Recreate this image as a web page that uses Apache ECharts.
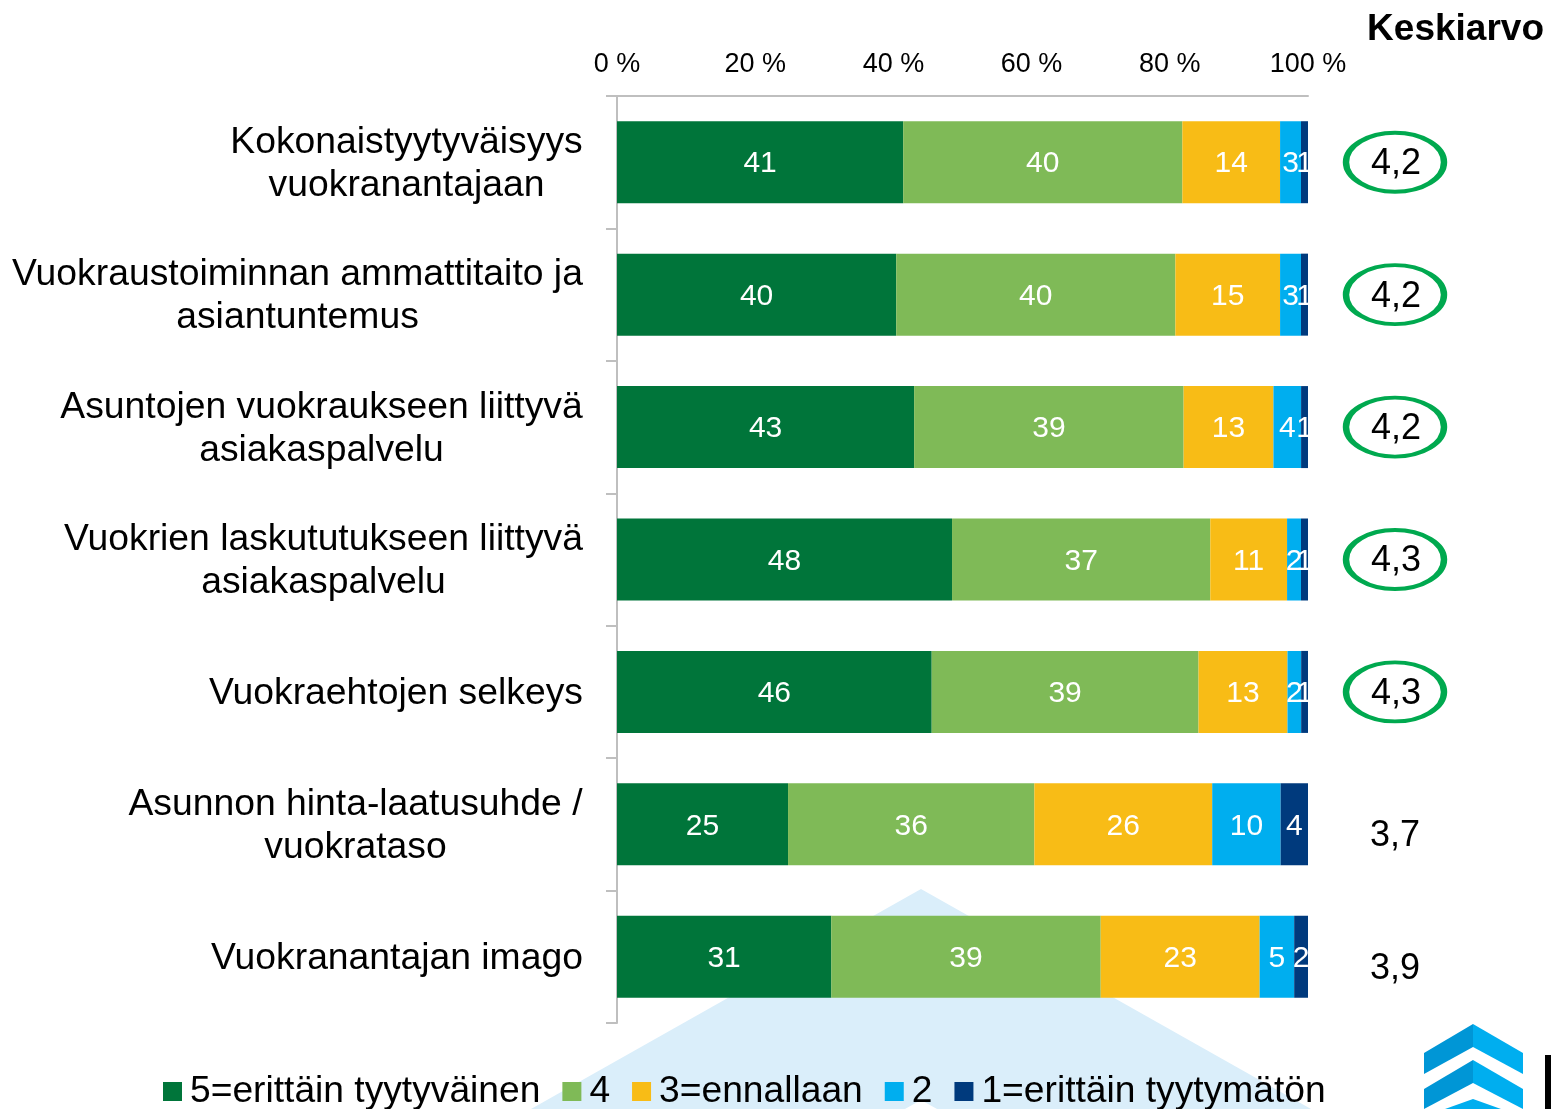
<!DOCTYPE html>
<html>
<head>
<meta charset="utf-8">
<script src="https://cdn.jsdelivr.net/npm/echarts@6/dist/echarts.min.js"></script>
<style>
  html, body { margin: 0; padding: 0; background: #fff; }
  #chart { width: 1551px; height: 1109px; }
</style>
</head>
<body>
<div id="chart"></div>
<script>
  // kysymykset (ylhäältä alas)
  var categories = [
    'Kokonaistyytyväisyys\nvuokranantajaan',
    'Vuokraustoiminnan ammattitaito ja\nasiantuntemus',
    'Asuntojen vuokraukseen liittyvä\nasiakaspalvelu',
    'Vuokrien laskututukseen liittyvä\nasiakaspalvelu',
    'Vuokraehtojen selkeys',
    'Asunnon hinta-laatusuhde /\nvuokrataso',
    'Vuokranantajan imago'
  ];
  var seriesNames = ['5=erittäin tyytyväinen', '4', '3=ennallaan', '2', '1=erittäin tyytymätön'];
  // osuudet % (kuten palkkien luvuissa)
  var s5 = [41, 40, 43, 48, 46, 25, 31];
  var s4 = [40, 40, 39, 37, 39, 36, 39];
  var s3 = [14, 15, 13, 11, 13, 26, 23];
  var s2 = [3, 3, 4, 2, 2, 10, 5];
  var s1 = [1, 1, 1, 1, 1, 4, 2];
  var means = [4.2, 4.2, 4.2, 4.3, 4.3, 3.7, 3.9];
  var xTicks = [0, 20, 40, 60, 80, 100];

  var colors = ['#00753A', '#7FBA57', '#F8BC16', '#00AEEF', '#003A7D'];
  var font = '"Liberation Sans", Arial, sans-serif';

  var chart = echarts.init(document.getElementById('chart'));

  var all = [s5, s4, s3, s2, s1];
  var totals = categories.map(function (c, i) {
    return s5[i] + s4[i] + s3[i] + s2[i] + s1[i];
  });

  // monirivisten otsikoiden rivit keskitetään
  var ctx = document.createElement('canvas').getContext('2d');
  ctx.font = '37.3px "Liberation Sans"';
  var rich = {};
  categories.forEach(function (c, i) {
    var w = 0;
    c.split('\n').forEach(function (l) { w = Math.max(w, ctx.measureText(l).width); });
    rich['c' + i] = { width: Math.ceil(w) + 2, align: 'center', fontSize: 37.3, lineHeight: 43, color: '#000', fontFamily: font };
  });

  var barSeries = all.map(function (arr, k) {
    return {
      name: seriesNames[k],
      type: 'bar',
      stack: 'total',
      barWidth: 82,
      xAxisIndex: 0,
      yAxisIndex: 0,
      itemStyle: { color: colors[k] },
      label: {
        show: true,
        position: 'inside',
        offset: [0, 2],
        color: '#fff',
        fontSize: 30,
        fontFamily: font,
        formatter: function (p) { return arr[p.dataIndex]; }
      },
      data: arr.map(function (v, i) { return v / totals[i] * 100; })
    };
  });

  var meanSeries = {
    name: 'Keskiarvo',
    type: 'scatter',
    xAxisIndex: 1,
    yAxisIndex: 1,
    silent: true,
    itemStyle: { opacity: 1 },
    data: means.map(function (m, i) {
      var circled = m >= 4;
      return {
        value: [0.5, i],
        symbolSize: circled ? [98, 59] : 1,
        itemStyle: circled ? { color: 'rgba(0,0,0,0)', borderColor: '#00A94F', borderWidth: 5, opacity: 1 } : { color: 'rgba(0,0,0,0)', opacity: 1 },
        label: { offset: circled ? [1, 2] : [0, 12] }
      };
    }),
    label: {
      show: true,
      position: 'inside',
      color: '#000',
      fontSize: 36,
      fontFamily: font,
      formatter: function (p) { return means[p.dataIndex].toFixed(1).replace('.', ','); }
    }
  };

  var option = {
    animation: false,
    textStyle: { fontFamily: font },
    title: {
      text: 'Keskiarvo',
      right: 2,
      top: 6,
      textStyle: { fontSize: 37, fontWeight: 'bold', color: '#000', fontFamily: font }
    },
    legend: {
      data: seriesNames,
      left: 163,
      top: 1073,
      padding: 0,
      icon: 'rect',
      itemWidth: 19,
      itemHeight: 19,
      itemGap: 22,
      textStyle: { fontSize: 37.2, color: '#000', fontFamily: font, padding: [0, 0, 0, 3] }
    },
    grid: [
      { left: 617, right: 243, top: 96, bottom: 86, outerBoundsMode: 'none' },
      { left: 1345, width: 100, top: 96, bottom: 86, outerBoundsMode: 'none' }
    ],
    xAxis: [
      {
        type: 'value',
        position: 'top',
        gridIndex: 0,
        min: xTicks[0],
        max: xTicks[xTicks.length - 1],
        interval: 20,
        axisLine: { show: true, lineStyle: { color: '#BFBFBF', width: 2 } },
        axisTick: { show: false },
        splitLine: { show: false },
        axisLabel: { margin: 18, fontSize: 27, color: '#000', fontFamily: font, formatter: '{value} %' }
      },
      { type: 'value', gridIndex: 1, min: 0, max: 1, show: false }
    ],
    yAxis: [
      {
        type: 'category',
        gridIndex: 0,
        inverse: true,
        data: categories,
        axisLine: { show: true, lineStyle: { color: '#BFBFBF', width: 2 } },
        axisTick: { show: true, length: 11, lineStyle: { color: '#BFBFBF', width: 2 } },
        axisLabel: {
          margin: 33,
          align: 'right',
          fontSize: 37.3,
          lineHeight: 43,
          color: '#000',
          fontFamily: font,
          padding: [4, 0, 0, 0],
          rich: rich,
          formatter: function (v, idx) {
            return v.split('\n').map(function (l) { return '{c' + idx + '|' + l + '}'; }).join('\n');
          }
        }
      },
      { type: 'category', gridIndex: 1, inverse: true, data: categories, show: false }
    ],
    graphic: [
      { type: 'polygon', z: -10, silent: true, shape: { points: [[921, 889], [531, 1109], [1311, 1109]] }, style: { fill: '#DAEEFA' } },
      { type: 'polygon', z: -9, silent: true, shape: { points: [[921, 1100], [905, 1109], [937, 1109]] }, style: { fill: '#fff' } },
      // logo
      { type: 'polygon', silent: true, shape: { points: [[1424, 1053], [1473, 1024], [1473, 1047], [1424, 1074]] }, style: { fill: '#0096D6' } },
      { type: 'polygon', silent: true, shape: { points: [[1473, 1024], [1523, 1053], [1523, 1074], [1473, 1047]] }, style: { fill: '#00AEEF' } },
      { type: 'polygon', silent: true, shape: { points: [[1424, 1089], [1473, 1060], [1473, 1083], [1424, 1109]] }, style: { fill: '#0096D6' } },
      { type: 'polygon', silent: true, shape: { points: [[1473, 1060], [1523, 1089], [1523, 1109], [1473, 1083]] }, style: { fill: '#00AEEF' } },
      { type: 'polygon', silent: true, shape: { points: [[1445, 1109], [1473, 1099], [1501, 1109]] }, style: { fill: '#00AEEF' } },
      { type: 'rect', silent: true, shape: { x: 1545, y: 1055, width: 6, height: 54 }, style: { fill: '#000' } }
    ],
    series: barSeries.concat([meanSeries])
  };

  chart.setOption(option);
</script>
</body>
</html>
